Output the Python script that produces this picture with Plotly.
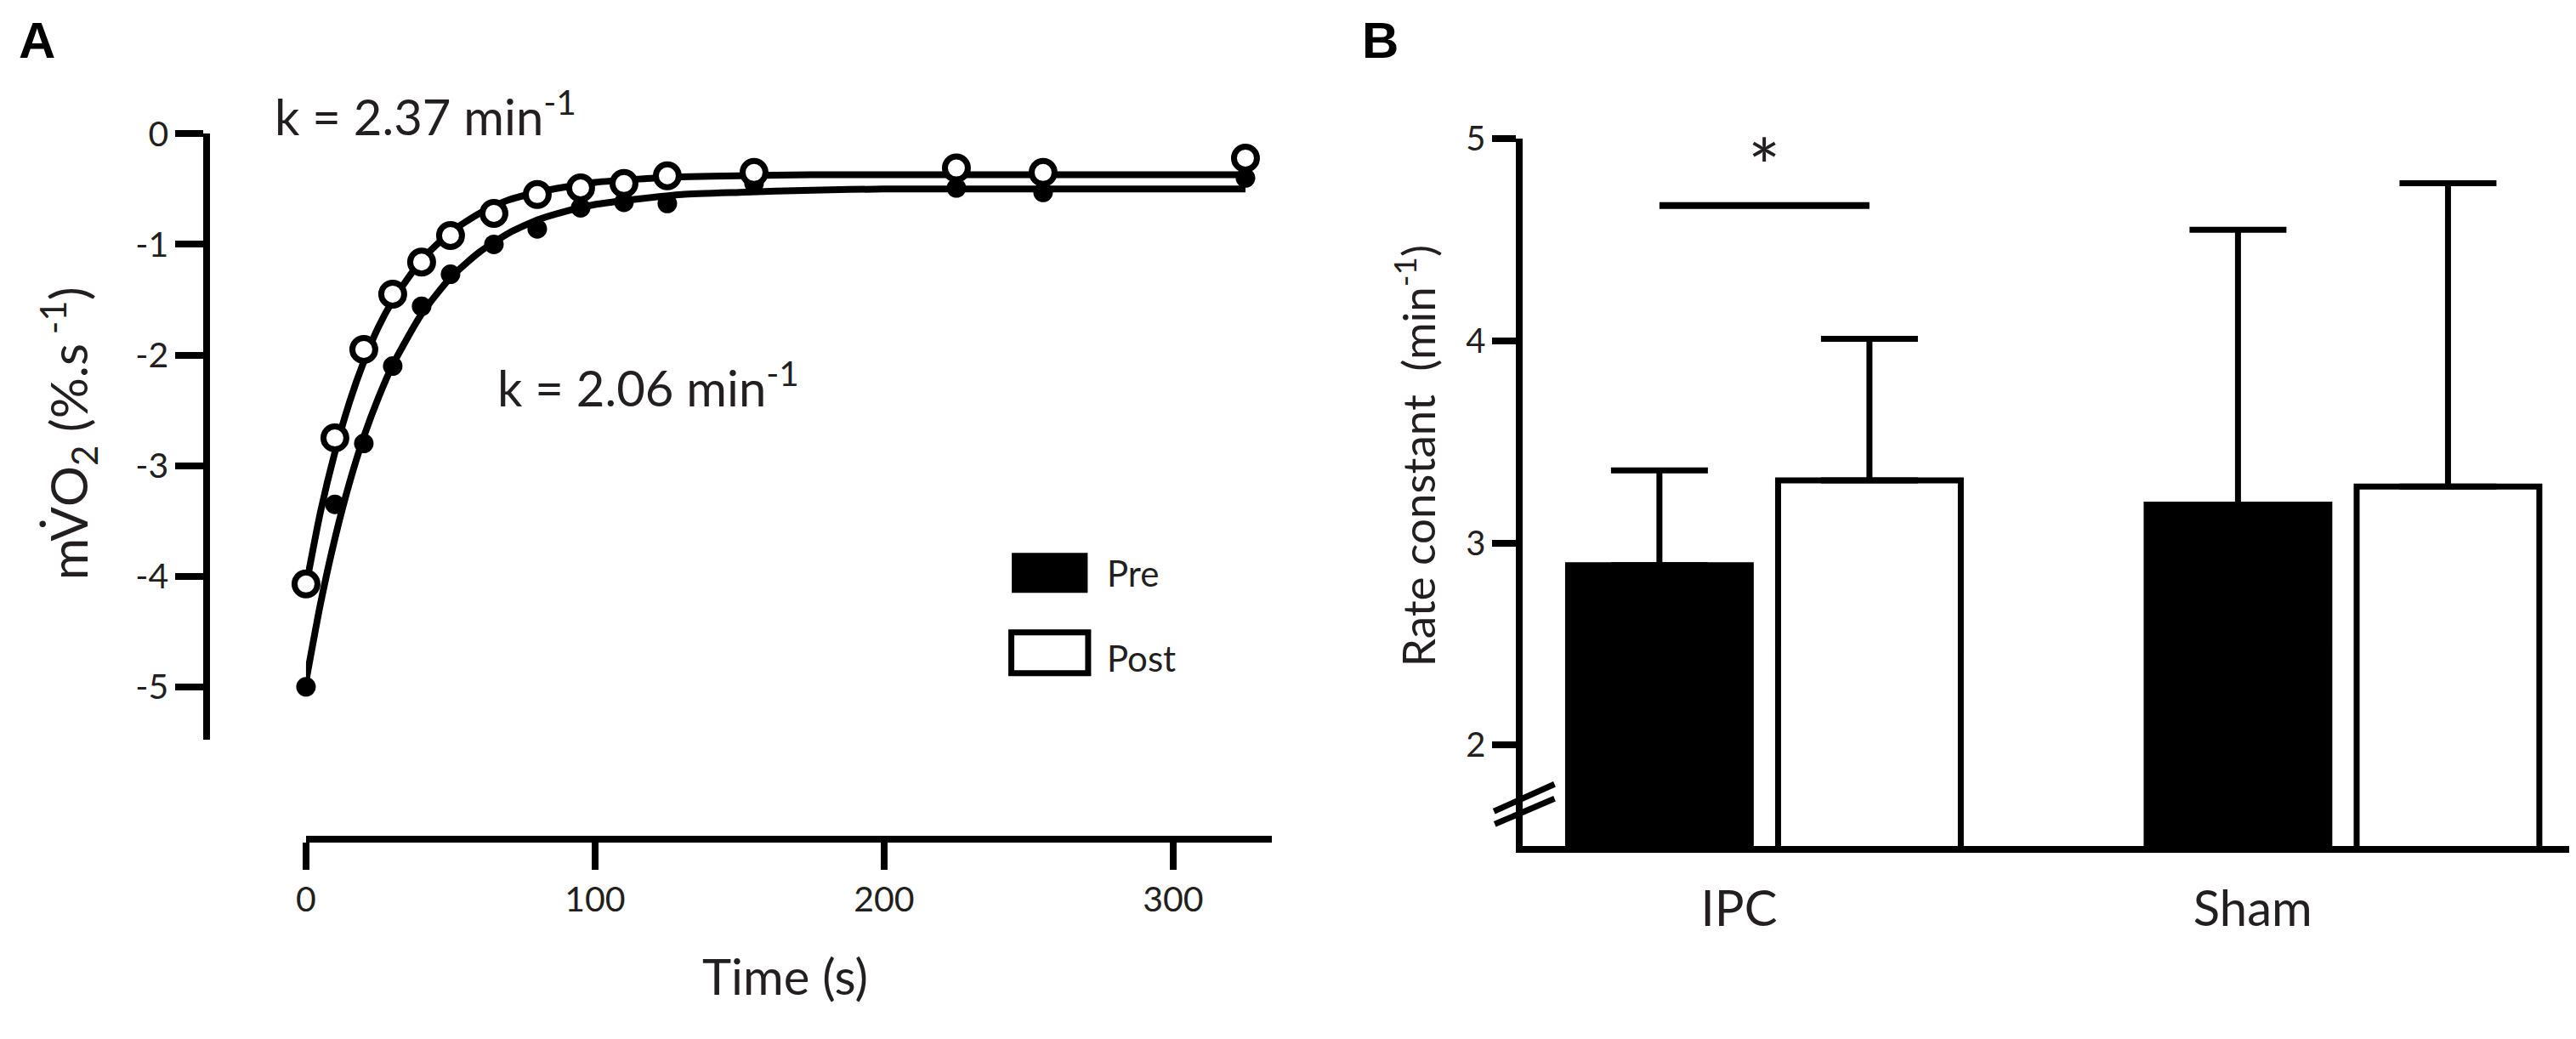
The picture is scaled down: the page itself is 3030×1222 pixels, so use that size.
import plotly.graph_objects as go

W, H = 3030, 1222
FONT = "Lato"
TXT = "#231f20"

# panel A: recovery of mVO2
time_s = [0, 10, 20, 30, 40, 50, 65, 80, 95, 110, 125, 155, 225, 255, 325]
pre_vo2 = [-5.00, -3.35, -2.80, -2.10, -1.56, -1.27, -1.00, -0.86, -0.67, -0.62, -0.63, -0.45, -0.49, -0.53, -0.40]
post_vo2 = [-4.07, -2.75, -1.95, -1.45, -1.16, -0.92, -0.72, -0.55, -0.49, -0.45, -0.38, -0.35, -0.31, -0.35, -0.22]

# fitted curves
fit_time_s = [0, 5, 10, 15, 20, 25, 30, 40, 50, 60, 70, 80, 90, 100, 115, 130, 150, 175, 200, 250, 325]
pre_fit = [-4.95, -4.25, -3.66, -3.16, -2.74, -2.39, -2.09, -1.63, -1.30, -1.07, -0.90, -0.78, -0.70,
           -0.64, -0.59, -0.55, -0.53, -0.51, -0.50, -0.50, -0.50]
post_fit = [-4.09, -3.42, -2.88, -2.43, -2.06, -1.75, -1.51, -1.14, -0.89, -0.72, -0.60, -0.53, -0.48,
            -0.44, -0.41, -0.39, -0.38, -0.37, -0.37, -0.37, -0.37]

a_xticks = [0, 100, 200, 300]
a_yticks = [0, -1, -2, -3, -4, -5]
a_yticklabels = ["0", "-1", "-2", "-3", "-4", "-5"]

# panel B: rate constants
groups = ["IPC", "Sham"]
pre_rate = [2.89, 3.19]
post_rate = [3.31, 3.28]
pre_err = [0.47, 1.36]
post_err = [0.70, 1.50]
sig_y = 4.67
b_yticks = [2, 3, 4, 5]


# the page lands a little down/right in the window, so pull layout positions back
def fx(x):
    return (1.0078 * x - 17.5) / W


def fy(y):
    return 1 - (1.0217 * y - 37.5) / H


group_x = [1, 2]
half = 0.1815  # offset of each bar from its group centre

fig = go.Figure()

# ---- panel A
for ys in [pre_fit, post_fit]:
    fig.add_trace(go.Scatter(x=fit_time_s, y=ys, mode="lines",
                             line=dict(color="black", width=8, shape="spline", smoothing=0.6),
                             xaxis="x", yaxis="y", hoverinfo="skip"))
fig.add_trace(go.Scatter(x=time_s, y=pre_vo2, mode="markers", cliponaxis=False,
                         marker=dict(color="black", size=23, line=dict(width=0)), xaxis="x", yaxis="y"))
fig.add_trace(go.Scatter(x=time_s, y=post_vo2, mode="markers", cliponaxis=False,
                         marker=dict(color="white", size=27, line=dict(color="black", width=7)), xaxis="x", yaxis="y"))

# ---- panel B
fig.add_trace(go.Bar(x=group_x, y=pre_rate, name="Pre", xaxis="x2", yaxis="y2",
                     marker=dict(color="black", line=dict(color="black", width=7)),
                     error_y=dict(type="data", array=pre_err, arrayminus=[0, 0], symmetric=False,
                                  color="black", thickness=7, width=57)))
fig.add_trace(go.Bar(x=group_x, y=post_rate, name="Post", xaxis="x2", yaxis="y2",
                     marker=dict(color="white", line=dict(color="black", width=7)),
                     error_y=dict(type="data", array=post_err, arrayminus=[0, 0], symmetric=False,
                                  color="black", thickness=7, width=57)))
fig.add_trace(go.Scatter(x=[group_x[0] - half, group_x[0] + half], y=[sig_y, sig_y], mode="lines",
                         line=dict(color="black", width=8), xaxis="x2", yaxis="y2", hoverinfo="skip"))

axis_common = dict(showgrid=False, zeroline=False, showline=True, linecolor="black", linewidth=8,
                   ticks="outside", tickcolor="black", tickwidth=8, tickfont=dict(family=FONT, size=41, color=TXT))

fig.update_layout(
    width=W, height=H, margin=dict(l=0, r=0, t=0, b=0),
    paper_bgcolor="white", plot_bgcolor="white", showlegend=False,
    barmode="group", bargap=0.274, bargroupgap=0.13,
    xaxis=dict(axis_common, domain=[fx(356), fx(1488)], range=[0, 334.2], anchor="free", position=fy(990),
               tickvals=a_xticks, ticklen=32),
    yaxis=dict(axis_common, domain=[fy(873), fy(160)], range=[-5.48, 0], anchor="free", position=fx(240),
               tickvals=a_yticks, ticktext=a_yticklabels, ticklen=33),
    xaxis2=dict(axis_common, domain=[fx(1782), 1.0], range=[0.5826, 2.4145], anchor="y2", ticks="",
                tickvals=[0.956, 1.844], ticktext=groups, tickfont=dict(family=FONT, size=58, color=TXT),
                ticklabelstandoff=16),
    yaxis2=dict(axis_common, domain=[fy(998), fy(166)], range=[1.5, 5], anchor="x2",
                tickvals=b_yticks, ticklen=28, tickfont=dict(family=FONT, size=40, color=TXT)),
)

annots = [
    dict(text="<b>A</b>", x=fx(41), y=fy(50), font=dict(family="Liberation Sans", size=60, color="black")),
    dict(text="<b>B</b>", x=fx(1615), y=fy(50), font=dict(family="Liberation Sans", size=60, color="black")),
    dict(text="k = 2.37 min<sup>-1</sup>", x=fx(317), y=fy(136), xanchor="left", font=dict(family=FONT, size=58, color=TXT)),
    dict(text="k = 2.06 min<sup>-1</sup>", x=fx(578), y=fy(455), xanchor="left", font=dict(family=FONT, size=58, color=TXT)),
    dict(text="Time (s)", x=fx(917), y=fy(1150), font=dict(family=FONT, size=58, color=TXT)),
    dict(text="mV\u0307O<sub>2</sub> (%.s<sup> -1</sup>)", x=fx(78), y=fy(512), textangle=-90,
         font=dict(family=FONT, size=60, color=TXT)),
    dict(text="Rate constant\u00a0 (min<sup>-1</sup>)", x=fx(1655), y=fy(539), textangle=-90,
         font=dict(family=FONT, size=53, color=TXT)),
    dict(text="Pre", x=fx(1293), y=fy(677), xanchor="left", font=dict(family=FONT, size=42, color=TXT)),
    dict(text="Post", x=fx(1293), y=fy(777), xanchor="left", font=dict(family=FONT, size=42, color=TXT)),
]
for a in annots:
    a.setdefault("xanchor", "center")
    fig.add_annotation(a, xref="paper", yref="paper", yanchor="middle", showarrow=False)

# significance star
fig.add_annotation(text="*", x=group_x[0], y=4.87, xref="x2", yref="y2",
                   showarrow=False, yanchor="middle", font=dict(family=FONT, size=90, color=TXT))

# legend swatches
fig.add_shape(type="rect", xref="paper", yref="paper", x0=fx(1183), x1=fx(1272), y0=fy(700), y1=fy(653),
              fillcolor="black", line=dict(width=0))
fig.add_shape(type="rect", xref="paper", yref="paper", x0=fx(1182.5), x1=fx(1272.5), y0=fy(794.5), y1=fy(746.5),
              fillcolor="white", line=dict(color="black", width=7))

# axis break marks
for (x0, y0, x1, y1) in [(1748, 957, 1819, 925), (1749, 972, 1819, 942)]:
    fig.add_shape(type="line", xref="paper", yref="paper", x0=fx(x0), y0=fy(y0), x1=fx(x1), y1=fy(y1),
                  line=dict(color="black", width=7))

fig.write_html("out.html")
